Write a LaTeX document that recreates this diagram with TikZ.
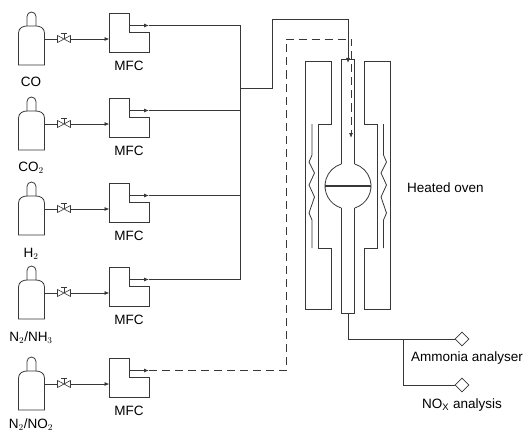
\documentclass[tikz,border=0pt]{standalone}
\usepackage{fontspec}
\setmainfont{Liberation Sans}
\usepackage{xcolor}
\usepackage{tikz}
\usetikzlibrary{calc,arrows.meta,positioning,shapes.geometric}
\definecolor{pipe}{RGB}{55,55,55}
\tikzset{
  line/.style={draw=pipe,line width=0.8pt},
  flow/.style={line,-{Latex[length=5pt,width=4pt]}},
  dashpipe/.style={line,dash pattern=on 8pt off 5pt},
  port/.style={diamond,draw=pipe,line width=0.8pt,fill=white,minimum size=14pt,inner sep=0pt},
  lab/.style={font=\fontsize{13.5}{15}\selectfont,inner sep=0pt}
}
\begin{document}
\begin{tikzpicture}[x=1pt,y=-1pt]
      \useasboundingbox (0,0) rectangle (526,433);
      % gas lines
      \foreach \i/\y in {1/0,2/85,3/170,4/254,5/345} {
        \begin{scope}[yshift=-\y pt]
          % cylinder
          \draw[line] (18.5,33) .. controls (18.5,28) and (23,26) .. (27,26) -- (36,26)
            .. controls (40,26) and (44.5,28) .. (44.5,33) -- (44.5,65) -- (18.5,65) -- cycle;
          \draw[line] (27,26) -- (27,16.5) arc (180:360:4.5) -- (36,26);
          \coordinate (cyl\i) at (44.5,39);
          % valve
          \draw[draw=pipe,line width=0.6pt] (57.5,35.5) -- (70.5,42.5) -- (70.5,35.5) -- (57.5,42.5) -- cycle;
          \draw[draw=pipe,line width=0.6pt] (64,39) -- (64,33.5) (61,33.5) -- (67,33.5);
          \coordinate (vl\i) at (57.5,39);
          \coordinate (vr\i) at (70.5,39);
          % mass flow controller
          \draw[line] (109.5,13) -- (129.5,13) -- (129.5,32.5) -- (149,32.5) -- (149,52) -- (109.5,52) -- cycle;
          \coordinate (in\i) at (109.5,39);
          \coordinate (out\i) at (129.5,25.5);
          \coordinate (tip\i) at (149,25.5);
          \node[lab] (mfc\i) at (129,65.5) {MFC};
          \draw[line] (cyl\i) -- (vl\i);
          \draw[flow] (vr\i) -- (in\i);
          \draw[flow] (out\i) -- (tip\i);
        \end{scope}
      }
      \node[lab] (gas1) at (31,82) {CO};
      \node[lab] (gas2) at (31,168) {CO$_2$};
      \node[lab] (gas3) at (31,254) {H$_2$};
      \node[lab] (gas4) at (31,338) {N$_2$/NH$_3$};
      \node[lab] (gas5) at (31,425) {N$_2$/NO$_2$};
      % manifold
      \coordinate (bus1) at (240,25.5);
      \coordinate (bus2) at (240,110.5);
      \coordinate (bus3) at (240,195.5);
      \coordinate (bus4) at (240,279.5);
      \coordinate (busout) at (240,88);
      \foreach \i in {1,...,4} \draw[line] (tip\i) -- (bus\i);
      \draw[line] (bus1) -- (bus4);
      \coordinate (feed) at (348,63);
      \coordinate (feedb) at (351,138);
      \draw[flow] (busout) -- (272.5,88) -- (272.5,19.5) -- (348,19.5) -- (feed);
      \draw[dashpipe] (tip5) -- (286,370.5) -- (286,39) -- (351,39) -- (351,132);
      \draw[flow] (351,132) -- (feedb);
      % oven
      \draw[line] (305.5,61.5) -- (331.5,61.5) -- (331.5,124) -- (318.5,124) -- (318.5,248)
        -- (331.5,248) -- (331.5,309.5) -- (305.5,309.5) -- cycle;
      \draw[line] (390.5,61.5) -- (364,61.5) -- (364,124) -- (377,124) -- (377,248)
        -- (364,248) -- (364,309.5) -- (390.5,309.5) -- cycle;
      \draw[line] (312,124) -- (312,155) -- (309,162) -- (314.5,173) -- (309,185) -- (314.5,197)
        -- (309,213) -- (312,220) -- (312,248);
      \draw[line] (383.5,124) -- (383.5,155) -- (386.5,162) -- (381,173) -- (386.5,185) -- (381,197)
        -- (386.5,213) -- (383.5,220) -- (383.5,248);
      % reactor tube
      \coordinate (ball) at (348,186);
      \draw[line] (341.3,164) -- (341.3,59) -- (354.7,59) -- (354.7,164);
      \draw[line] (341.3,208) -- (341.3,313) -- (354.7,313) -- (354.7,208);
      \draw[line] ($(ball)+(107:23)$) arc (107:253:23);
      \draw[line] ($(ball)+(73:23)$) arc (73:-73:23);
      \draw[draw=pipe,line width=1.2pt] (325,186) -- (371,186);
      % outlets
      \coordinate (exit) at (348,313);
      \coordinate (split) at (403,339);
      \node[port] (amm) at (462,339) {};
      \node[port] (nox) at (462,385) {};
      \draw[line] (exit) |- (amm.west);
      \draw[line] (split) |- (nox.west);
      \node[lab,anchor=west] (oven) at (407,188) {Heated oven};
      \node[lab,anchor=west] (ammlab) at (411,358) {Ammonia analyser};
      \node[lab] (noxlab) at (462,405) {NO$_\mathrm{X}$ analysis};
    \end{tikzpicture}
\end{document}
